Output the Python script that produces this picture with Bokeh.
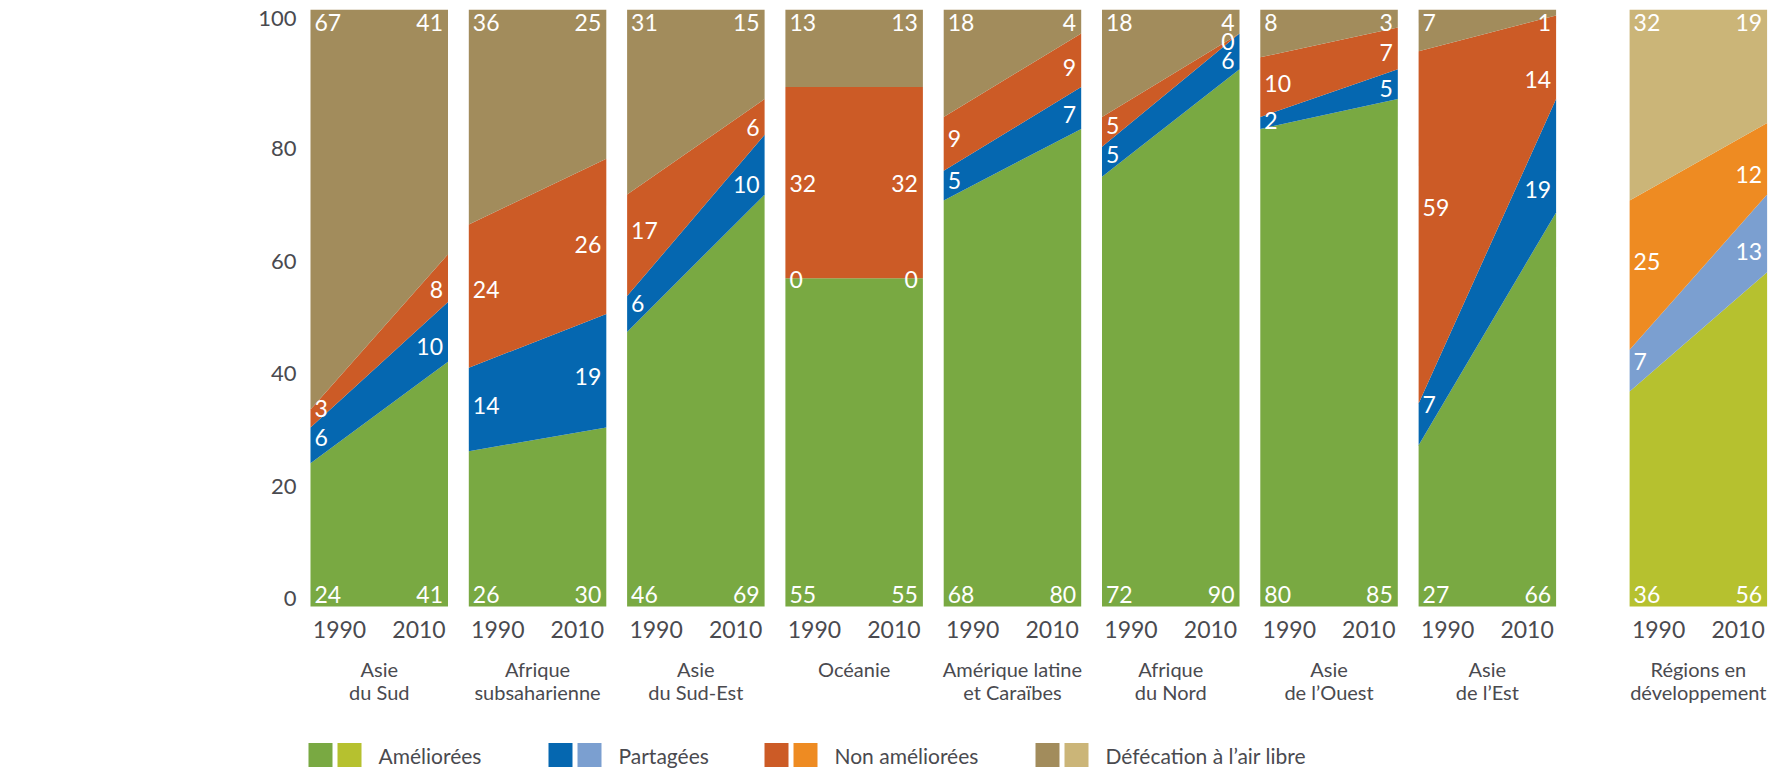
import numpy as np
from bokeh.plotting import figure
from bokeh.models import Range1d, LinearAxis, FixedTicker
from bokeh.embed import file_html
from bokeh.resources import INLINE
from bokeh.core.properties import value

# ---------------- data ----------------
region_line1 = ["Asie", "Afrique", "Asie", "Océanie", "Amérique latine",
                "Afrique", "Asie", "Asie", "Régions en"]
region_line2 = ["du Sud", "subsaharienne", "du Sud-Est", "", "et Caraïbes",
                "du Nord", "de l’Ouest", "de l’Est", "développement"]
years = ["1990", "2010"]
categories = ["Améliorées", "Partagées", "Non améliorées", "Défécation à l’air libre"]

ameliorees_1990 = [24, 26, 46, 55, 68, 72, 80, 27, 36]
ameliorees_2010 = [41, 30, 69, 55, 80, 90, 85, 66, 56]
partagees_1990 = [6, 14, 6, 0, 5, 5, 2, 7, 7]
partagees_2010 = [10, 19, 10, 0, 7, 6, 5, 19, 13]
non_ameliorees_1990 = [3, 24, 17, 32, 9, 5, 10, 59, 25]
non_ameliorees_2010 = [8, 26, 6, 32, 9, 0, 7, 14, 12]
defecation_1990 = [67, 36, 31, 13, 18, 18, 8, 7, 32]
defecation_2010 = [41, 25, 15, 13, 4, 4, 3, 1, 19]

y_ticks = [0, 20, 40, 60, 80, 100]

# ---------------- styles / layout ----------------
colors_regional = ["#79a942", "#0567b0", "#cc5b26", "#a28c5c"]
colors_developing = ["#b6c12f", "#7b9fd0", "#ee8b22", "#cbb578"]
FONT = "Lato"
GREY = "#4a4a4f"

FIG_H = 768
PLOT_TOP = 9        # screen y of value 100
ZERO_Y = 606        # screen y of value 0
BOTTOM_Y = FIG_H
PX = (ZERO_Y - PLOT_TOP) / 100.0   # pixels per percent

PITCH = 158.3
PANEL_W = 137.5
DEV_GAP = 211.0
panel_left = [i * PITCH for i in range(8)] + [7 * PITCH + DEV_GAP]

X_START = -12
X_END = 1458
LEFT_BORDER = 298

def ypx(screen_y):
    """convert a screen-pixel position to data units"""
    return -(screen_y - ZERO_Y) / PX

p = figure(width=LEFT_BORDER + (X_END - X_START), height=FIG_H,
           x_range=Range1d(X_START, X_END), y_range=Range1d(ypx(BOTTOM_Y), 100),
           output_backend="svg", toolbar_location=None, title=None,
           x_axis_location=None, y_axis_location=None,
           min_border_left=LEFT_BORDER, min_border_right=0,
           min_border_top=PLOT_TOP, min_border_bottom=0)
p.outline_line_color = None
p.grid.visible = False
p.background_fill_color = "white"
p.border_fill_color = "white"

# y axis: labels are set slightly apart from the panel scale, as in the reference
LBL0 = 598.0
LBL_STEP = 5.625
TOP_NUDGE = 3.1          # the "100" label sits a little higher
tick_pos = [t + (TOP_NUDGE if t == max(y_ticks) else 0) for t in y_ticks]
p.extra_y_ranges = {"ticks": Range1d((LBL0 - BOTTOM_Y) / LBL_STEP,
                                     (LBL0 - PLOT_TOP) / LBL_STEP)}
ax = LinearAxis(y_range_name="ticks", ticker=FixedTicker(ticks=tick_pos))
ax.major_label_overrides = {pos: str(t) for pos, t in zip(tick_pos, y_ticks)}
ax.axis_line_color = None
ax.major_tick_line_color = None
ax.minor_tick_line_color = None
ax.major_tick_in = 0
ax.major_tick_out = 0
ax.major_label_standoff = 2
ax.major_label_text_font = FONT
ax.major_label_text_font_size = "22px"
ax.major_label_text_color = GREY
p.add_layout(ax, "left")

# ---------------- panels ----------------
lab_l = dict(x=[], y=[], t=[])
lab_r = dict(x=[], y=[], t=[])
DIGIT_W = 6.5
for i in range(9):
    xl = panel_left[i]
    xr = xl + PANEL_W
    pal = colors_developing if i == 8 else colors_regional
    v90 = [ameliorees_1990[i], partagees_1990[i], non_ameliorees_1990[i], defecation_1990[i]]
    v10 = [ameliorees_2010[i], partagees_2010[i], non_ameliorees_2010[i], defecation_2010[i]]
    c90 = np.concatenate([[0], np.cumsum(v90)])
    c10 = np.concatenate([[0], np.cumsum(v10)])
    for k in range(4):
        p.varea(x=[xl, xr], y1=[c90[k], c10[k]], y2=[c90[k + 1], c10[k + 1]],
                fill_color=pal[k])
    for k in range(4):
        for side in (0, 1):
            vals = v90 if side == 0 else v10
            txt = str(vals[k])
            if k == 0:
                y = ypx(593.5)
            elif k == 3:
                y = ypx(21.5)
            else:
                f = (4 + DIGIT_W * len(txt)) / PANEL_W
                if side == 0:
                    lo = c90[k] + f * (c10[k] - c90[k])
                    hi = c90[k + 1] + f * (c10[k + 1] - c90[k + 1])
                else:
                    lo = c10[k] + f * (c90[k] - c10[k])
                    hi = c10[k + 1] + f * (c90[k + 1] - c10[k + 1])
                y = (lo + hi) / 2 - 1.0 / PX
            if side == 0:
                lab_l["x"].append(xl + 4); lab_l["y"].append(y); lab_l["t"].append(txt)
            else:
                lab_r["x"].append(xr - 5); lab_r["y"].append(y); lab_r["t"].append(txt)

p.text(x=lab_l["x"], y=lab_l["y"], text=lab_l["t"], text_align="left",
       text_baseline="middle", text_color="white",
       text_font=value(FONT), text_font_size="23px")
p.text(x=lab_r["x"], y=lab_r["y"], text=lab_r["t"], text_align="right",
       text_baseline="middle", text_color="white",
       text_font=value(FONT), text_font_size="23px")

# year labels
yx, yt = [], []
for i in range(9):
    yx += [panel_left[i] + 29, panel_left[i] + PANEL_W - 29]
    yt += years
p.text(x=yx, y=[ypx(629)] * len(yx), text=yt, text_align="center",
       text_baseline="middle", text_color=GREY,
       text_font=value(FONT), text_font_size="23px")

# region labels
cx = [l + PANEL_W / 2 for l in panel_left]
p.text(x=cx, y=[ypx(668)] * 9, text=region_line1, text_align="center",
       text_baseline="middle", text_color=GREY,
       text_font=value(FONT), text_font_size="20px")
p.text(x=cx, y=[ypx(691)] * 9, text=region_line2, text_align="center",
       text_baseline="middle", text_color=GREY,
       text_font=value(FONT), text_font_size="20px")

# legend (two swatches per category: regions / developing regions)
LEG_Y = 754.5
legend_start = [-2, 238, 454, 725]
for k in range(4):
    s = legend_start[k]
    p.rect(x=[s + 12], y=[ypx(LEG_Y)], width=24, height=24,
           width_units="screen", height_units="screen",
           fill_color=colors_regional[k], line_color=None)
    p.rect(x=[s + 41], y=[ypx(LEG_Y)], width=24, height=24,
           width_units="screen", height_units="screen",
           fill_color=colors_developing[k], line_color=None)
p.text(x=[s + 70 for s in legend_start], y=[ypx(LEG_Y)] * 4, text=categories,
       text_align="left", text_baseline="middle", text_color=GREY,
       text_font=value(FONT), text_font_size="21px")

open("out.html", "w").write(file_html(p, INLINE))
